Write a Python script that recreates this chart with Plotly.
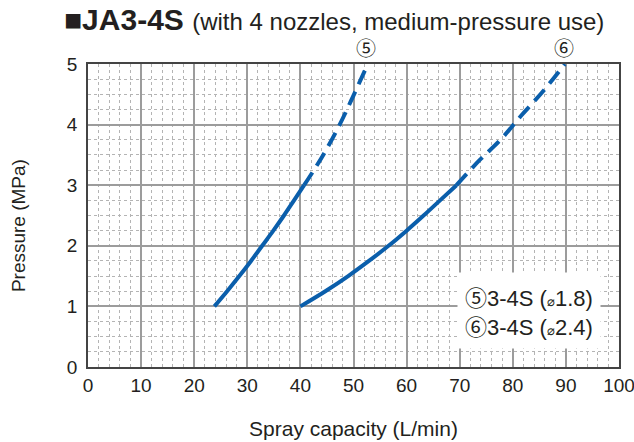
import plotly.graph_objects as go

# Curve 5 (3-4S, ⌀1.8)
q5_solid = [23.8, 26.2, 28.5, 30.7, 32.8, 34.9, 36.9, 38.8, 40.7]
p5_solid = [1.0, 1.25, 1.5, 1.75, 2.0, 2.25, 2.5, 2.75, 3.0]
q5_dash = [40.7, 44.3, 47.4, 50.1, 52.7]
p5_dash = [3.0, 3.5, 4.0, 4.5, 5.0]

# Curve 6 (3-4S, ⌀2.4)
q6_solid = [40.0, 44.7, 49.0, 52.9, 56.6, 60.0, 63.2, 66.3, 69.4]
p6_solid = [1.0, 1.25, 1.5, 1.75, 2.0, 2.25, 2.5, 2.75, 3.0]
q6_dash = [69.4, 73.6, 77.7, 81.6, 85.7, 89.8]
p6_dash = [3.0, 3.4, 3.75, 4.15, 4.55, 5.0]

x_ticks = [0, 10, 20, 30, 40, 50, 60, 70, 80, 90, 100]
y_ticks = [0, 1, 2, 3, 4, 5]

BLUE = "#0a5eab"
TXT = "#231f20"
FONT = "Liberation Sans, Arial, sans-serif"
CJK = "Noto Sans CJK JP"

fig = go.Figure()
for xs, ys, dash in [(q5_solid, p5_solid, "solid"), (q5_dash, p5_dash, "15px,8px"),
                     (q6_solid, p6_solid, "solid"), (q6_dash, p6_dash, "15px,8px")]:
    fig.add_trace(go.Scatter(x=xs, y=ys, mode="lines", line_shape="spline",
                             line=dict(color=BLUE, width=4, dash=dash),
                             showlegend=False, hoverinfo="skip"))

axis_common = dict(showline=True, linecolor="#444444", linewidth=1.8, mirror=True,
                   showgrid=True, gridcolor="#9c9c9c", gridwidth=1.5,
                   zeroline=False, ticks="", ticklabeloverflow="allow", automargin=False,
                   tickfont=dict(size=19, color=TXT, family=FONT))

fig.update_xaxes(range=[0, 100], tickvals=x_ticks, ticktext=[str(v) for v in x_ticks],
                 minor=dict(dtick=2, showgrid=True, gridcolor="#b4b4b4", griddash="3px,3px", gridwidth=1),
                 title=dict(text="Spray capacity (L/min)", font=dict(size=21, color=TXT, family=FONT),
                            standoff=27),
                 **axis_common)
fig.update_yaxes(range=[0, 5], tickvals=y_ticks, ticktext=[str(v) for v in y_ticks],
                 minor=dict(dtick=0.25, showgrid=True, gridcolor="#b4b4b4", griddash="3px,3px", gridwidth=1),
                 ticklabelstandoff=5,
                 **axis_common)

circ = "<span style='font-family:Noto Sans CJK JP'>%s</span>"
dia = "<span style='font-size:13px'>⌀</span>"
anns = [
    dict(x=-0.049, xref="paper", y=1.1485, yref="paper",
         text="<b>■JA3-4S</b> <span style='font-size:24px'>(with 4 nozzles, medium-pressure use)</span>",
         showarrow=False, xanchor="left", yanchor="middle",
         font=dict(size=30, color=TXT, family=FONT)),
    dict(x=-0.1318, xref="paper", y=0.465, yref="paper", text="Pressure (MPa)", textangle=-90,
         showarrow=False, xanchor="center", yanchor="middle",
         font=dict(size=19, color=TXT, family=FONT)),
    dict(x=52.4, y=5, text="⑤", showarrow=False, yanchor="middle", yshift=17,
         font=dict(size=20, color=TXT, family=CJK)),
    dict(x=89.6, y=5, text="⑥", showarrow=False, yanchor="middle", yshift=17,
         font=dict(size=20, color=TXT, family=CJK)),
    dict(x=69.5, y=0.93, text=(circ % "⑤") + "3-4S (" + dia + "1.8)<br>" + (circ % "⑥") + "3-4S (" + dia + "2.4)",
         showarrow=False, xanchor="left", yanchor="middle", align="left",
         bgcolor="white", borderpad=7,
         font=dict(size=22, color=TXT, family=FONT)),
]
fig.update_layout(width=634, height=442, margin=dict(l=88, r=15, t=64, b=75, autoexpand=False),
                  paper_bgcolor="white", plot_bgcolor="white",
                  font=dict(family=FONT), annotations=anns)

fig.write_html("out.html", config={"displayModeBar": False},
               post_script="document.body.style.margin='0';document.body.style.overflow='hidden';")
